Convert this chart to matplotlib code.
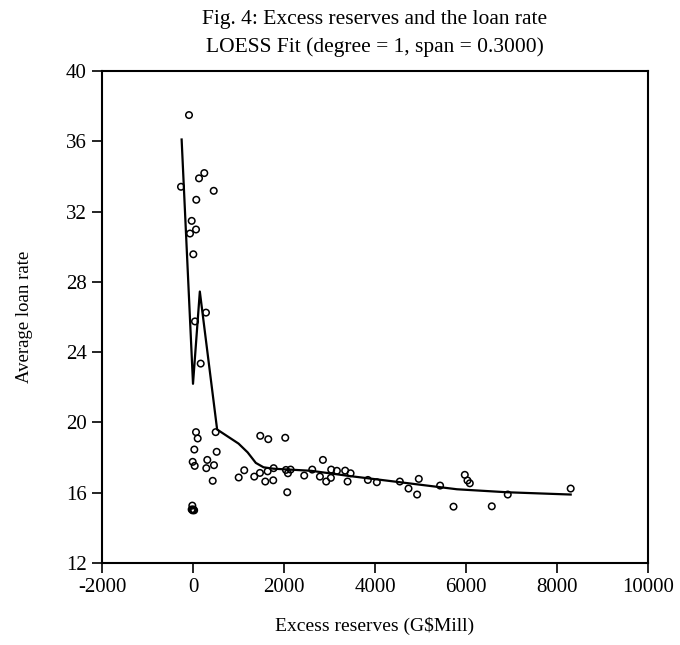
import matplotlib
matplotlib.use("Agg")
import matplotlib.pyplot as plt

plt.rcParams['font.family'] = ['Liberation Serif', 'DejaVu Serif']
plt.rcParams['axes.unicode_minus'] = False

# excess reserves (G$ mill) and average loan rate
reserves = [-88, -264, 132, 248, 455, 72, -29, 66, -66, 7, 285, 44, 169,
            66, 103, 498, 29, 520, -7, 37, 314, 292, 461, 433,
            1478, 1654, 2027, 1126, 1004, 1346, 1471, 1640, 1772, 1588, 1763,
            2071, 2042, 2086, 2145, 2444, 2620, 2855, 2789, 2927, 3037, 3030,
            3162, 3344, 3463, 3397, 3843, 4040, 4545, 4962, 4736, 4925, 5430,
            5725, 5973, 6032, 6083, 6917, 6566, 8300,
            -15, -30, -10, 10, 25]
loan_rate = [37.49, 33.41, 33.89, 34.19, 33.18, 32.67, 31.47, 30.98, 30.75, 29.57, 26.25, 25.75, 23.35,
             19.45, 19.09, 19.45, 18.46, 18.33, 17.76, 17.53, 17.87, 17.40, 17.57, 16.68,
             19.24, 19.05, 19.13, 17.28, 16.87, 16.92, 17.13, 17.22, 17.40, 16.64, 16.71,
             16.03, 17.30, 17.11, 17.32, 16.98, 17.32, 17.87, 16.92, 16.64, 17.32, 16.85,
             17.25, 17.26, 17.11, 16.64, 16.73, 16.60, 16.64, 16.79, 16.24, 15.90, 16.41,
             15.21, 17.02, 16.70, 16.54, 15.90, 15.23, 16.24,
             15.27, 15.05, 15.0, 15.05, 15.0]

# LOESS fit (degree = 1, span = 0.3)
fit_x = [-250, 0, 150, 530, 1000, 1200, 1380, 1550, 1770, 2600, 3450,
         4550, 5800, 6900, 8300]
fit_y = [36.1, 22.2, 27.45, 19.6, 18.8, 18.3, 17.7, 17.45, 17.37, 17.25, 16.95,
         16.6, 16.2, 16.03, 15.9]

xticks = [-2000, 0, 2000, 4000, 6000, 8000, 10000]
yticks = [12, 16, 20, 24, 28, 32, 36, 40]

fig = plt.figure(figsize=(6.8, 6.45), dpi=100)
ax = fig.add_axes([0.15, 0.127, 0.803, 0.763])

ax.scatter(reserves, loan_rate, s=22, facecolors='none', edgecolors='black', linewidths=1.1, zorder=3)
ax.plot(fit_x, fit_y, color='black', lw=1.6, zorder=2)

ax.set_xlim(-2000, 10000)
ax.set_ylim(12, 40)
ax.set_xticks(xticks)
ax.set_yticks(yticks)
ax.tick_params(direction='out', length=7, width=1.2, labelsize=15, pad=4)
for s in ax.spines.values():
    s.set_linewidth(1.5)

ax.set_xlabel('Excess reserves (G$Mill)', fontsize=14, labelpad=14)
ax.set_ylabel('Average loan rate', fontsize=13.5, labelpad=24)
ax.set_title('Fig. 4: Excess reserves and the loan rate\nLOESS Fit (degree = 1, span = 0.3000)',
             fontsize=15.5, linespacing=1.55, pad=14)

fig.savefig('out.png', dpi=100)
